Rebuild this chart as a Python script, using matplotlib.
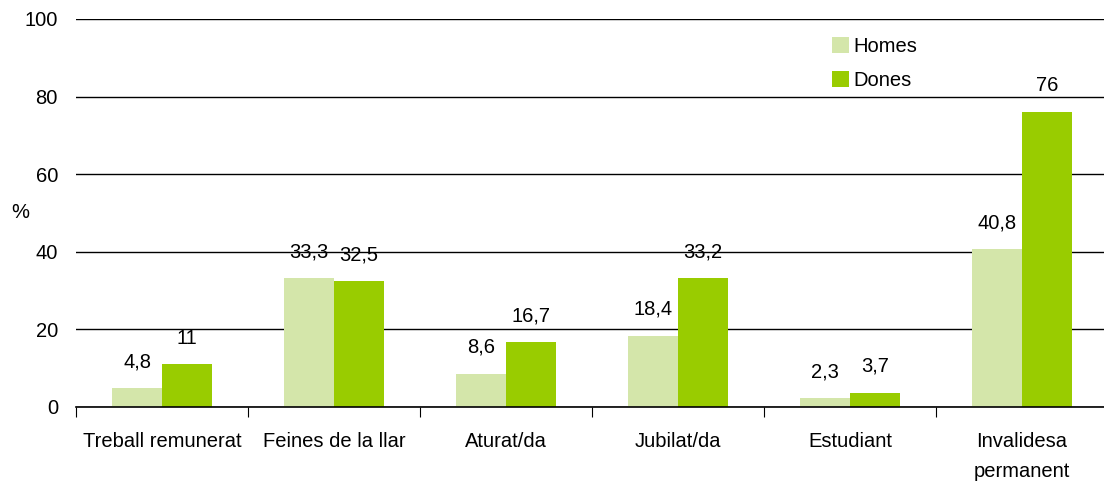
import matplotlib.pyplot as plt
import numpy as np

plt.rcParams['font.family'] = ['Liberation Sans', 'DejaVu Sans']

categories = ['Treball remunerat', 'Feines de la llar', 'Aturat/da', 'Jubilat/da',
              'Estudiant', 'Invalidesa\npermanent']
homes = [4.8, 33.3, 8.6, 18.4, 2.3, 40.8]
dones = [11, 32.5, 16.7, 33.2, 3.7, 76]
homes_lbl = ['4,8', '33,3', '8,6', '18,4', '2,3', '40,8']
dones_lbl = ['11', '32,5', '16,7', '33,2', '3,7', '76']

c_homes = '#d4e6aa'
c_dones = '#99cc00'
fs = 14.5

fig = plt.figure(figsize=(11.04, 4.91), dpi=100)
# axes runs slightly past the right edge, like the original
ax = fig.add_axes([76/1104, 1 - 407/491, 1032/1104, 388/491])

x = np.arange(len(categories))
w = 0.29
b1 = ax.bar(x - w/2, homes, w, color=c_homes, label='Homes', zorder=3)
b2 = ax.bar(x + w/2, dones, w, color=c_dones, label='Dones', zorder=3)

for rect, t in zip(b1, homes_lbl):
    ax.text(rect.get_x() + rect.get_width()/2, rect.get_height() + 4.3, t,
            ha='center', va='bottom', fontsize=fs)
for rect, t in zip(b2, dones_lbl):
    ax.text(rect.get_x() + rect.get_width()/2, rect.get_height() + 4.3, t,
            ha='center', va='bottom', fontsize=fs)

ax.set_xlim(-0.5, len(categories) - 0.5)
ax.set_ylim(0, 100)
ax.set_yticks(range(0, 101, 20))
ax.yaxis.grid(True, color='black', linewidth=1, zorder=0)
ax.tick_params(axis='y', length=0, pad=13, labelsize=fs)

# category boundary ticks
ax.set_xticks(np.arange(-0.5, len(categories), 1))
ax.set_xticklabels([])
ax.tick_params(axis='x', which='major', length=7, direction='out', color='black')
ax.set_xticks(x, minor=True)
ax.set_xticklabels(categories, minor=True, fontsize=fs, linespacing=1.75)
ax.tick_params(axis='x', which='minor', length=0, pad=18)

for s in ['left', 'right', 'top']:
    ax.spines[s].set_visible(False)
ax.spines['bottom'].set_color('black')
ax.spines['bottom'].set_linewidth(1.2)
ax.spines['bottom'].set_zorder(4)

fig.text(20/1104, 1 - 213/491, '%', fontsize=fs, ha='center', va='center')

leg = ax.legend(loc='upper left', bbox_to_anchor=(738/1032, 1.0), frameon=False,
                fontsize=fs, handlelength=0.85, handleheight=0.85,
                handletextpad=0.2, labelspacing=0.75)

fig.savefig('out.png', dpi=100)
